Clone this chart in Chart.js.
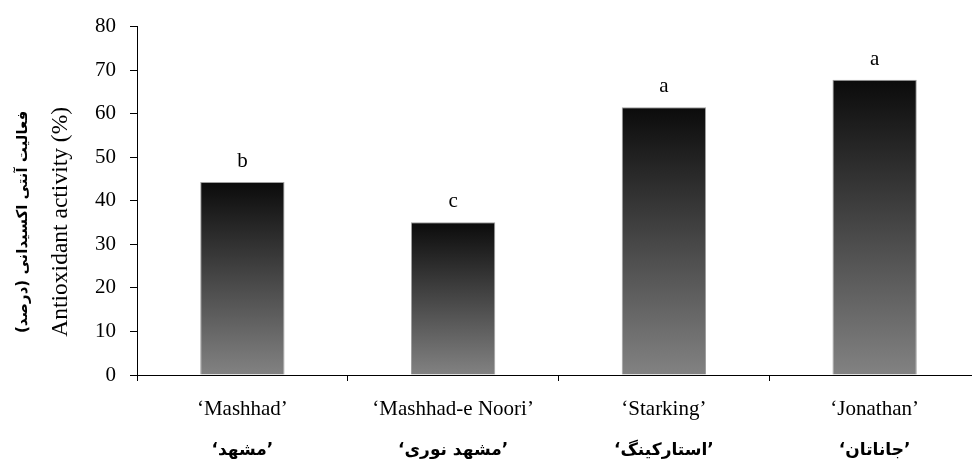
<!DOCTYPE html>
<html>
<head>
<meta charset="utf-8">
<script src="https://cdn.jsdelivr.net/npm/chart.js@4/dist/chart.umd.min.js"></script>
<style>
  html, body { margin: 0; padding: 0; background: #fff; overflow: hidden; }
  canvas { display: block; }
</style>
</head>
<body>
<canvas id="chart" width="982" height="463"></canvas>
<script>
// Cultivar names (English and Persian), antioxidant activity and significance letters
const cultivars = ["\u2018Mashhad\u2019", "\u2018Mashhad-e Noori\u2019", "\u2018Starking\u2019", "\u2018Jonathan\u2019"];
const cultivarsFa = ["\u2018مشهد\u2019", "\u2018مشهد نوری\u2019", "\u2018استارکینگ\u2019", "\u2018جاناتان\u2019"];
const activity = [44.3, 35.1, 61.5, 67.8];
const groupLetters = ["b", "c", "a", "a"];
const yMin = 0, yMax = 80, yStep = 10;
const yTitleEn = "Antioxidant activity (%)";
const yTitleFa = "فعالیت آنتی اکسیدانی (درصد)";

const SERIF = "'Liberation Serif', 'Times New Roman', serif";
const FA = "'DejaVu Sans', sans-serif";

// Vertical dark-to-grey fill for each bar
function barGradient(ctx) {
  const chart = ctx.chart;
  const y = chart.scales && chart.scales.y;
  if (!chart.chartArea || !y || ctx.raw === undefined) return '#555';
  const top = y.getPixelForValue(ctx.raw);
  const base = y.getPixelForValue(0);
  const g = chart.ctx.createLinearGradient(0, top, 0, base);
  g.addColorStop(0, '#0b0b0b');
  g.addColorStop(1, '#828282');
  return g;
}

// Letters above bars, Persian category names and both axis titles
const annotations = {
  id: 'annotations',
  afterDatasetsDraw(chart) {
    const ctx = chart.ctx;
    const meta = chart.getDatasetMeta(0);
    ctx.save();
    ctx.fillStyle = '#000';
    ctx.font = "21px " + SERIF;
    ctx.textAlign = 'center';
    ctx.textBaseline = 'alphabetic';
    meta.data.forEach((bar, i) => {
      ctx.fillText(groupLetters[i], bar.x, bar.y - 15);
    });
    ctx.restore();
  },
  afterDraw(chart) {
    const ctx = chart.ctx;
    const x = chart.scales.x;
    const area = chart.chartArea;
    ctx.save();
    ctx.fillStyle = '#000';
    ctx.textAlign = 'center';
    ctx.textBaseline = 'middle';
    ctx.font = "bold 17px " + FA;
    cultivarsFa.forEach((label, i) => {
      ctx.fillText(label, x.getPixelForValue(i), area.bottom + 76);
    });

    const cy = (area.top + area.bottom) / 2 + 21;
    ctx.save();
    ctx.translate(61, cy);
    ctx.rotate(-Math.PI / 2);
    ctx.font = "23.5px " + SERIF;
    ctx.fillText(yTitleEn, 0, 0);
    ctx.restore();

    ctx.save();
    ctx.translate(23, cy);
    ctx.rotate(-Math.PI / 2);
    ctx.direction = 'rtl';
    ctx.font = "bold 15px " + FA;
    ctx.fillText(yTitleFa, 0, 0);
    ctx.restore();
    ctx.restore();
  }
};

new Chart(document.getElementById('chart'), {
  type: 'bar',
  data: {
    labels: cultivars,
    datasets: [{
      data: activity,
      backgroundColor: barGradient,
      borderColor: '#a0a0a0',
      borderWidth: 1,
      categoryPercentage: 1,
      barPercentage: 0.4
    }]
  },
  options: {
    responsive: false,
    animation: false,
    devicePixelRatio: 1,
    layout: { padding: { left: 0, top: 23, right: 2, bottom: 0 } },
    plugins: {
      legend: { display: false },
      tooltip: { enabled: false },
      title: { display: false }
    },
    scales: {
      x: {
        offset: true,
        grid: { offset: true, drawOnChartArea: false, drawTicks: true, tickLength: 6, color: '#000' },
        border: { display: true, color: '#000', width: 1 },
        ticks: { color: '#000', padding: 16, maxRotation: 0, autoSkip: false, font: { family: SERIF, size: 21 } },
        afterFit(scale) { scale.height = 88; }
      },
      y: {
        min: yMin,
        max: yMax,
        grid: { drawOnChartArea: false, drawTicks: true, tickLength: 7, color: '#000' },
        border: { display: true, color: '#000', width: 1 },
        ticks: { stepSize: yStep, color: '#000', padding: 14, font: { family: SERIF, size: 21 } },
        afterFit(scale) { scale.width = 137; }
      }
    }
  },
  plugins: [annotations]
});
</script>
</body>
</html>
